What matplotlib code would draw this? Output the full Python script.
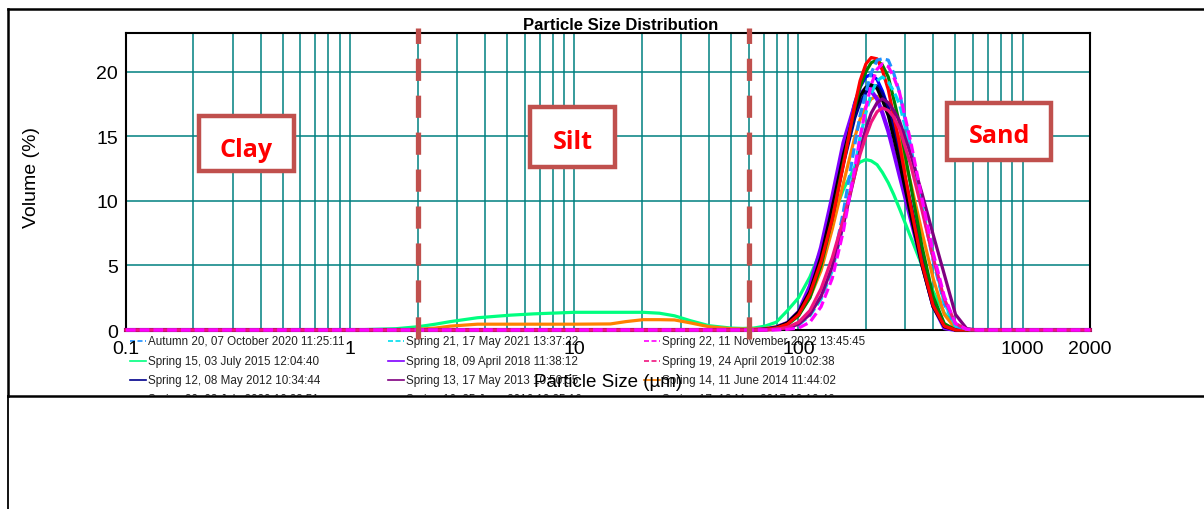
import matplotlib
matplotlib.use('Agg')
import matplotlib.pyplot as plt
from matplotlib.lines import Line2D
from matplotlib.patches import Rectangle
from matplotlib.ticker import NullFormatter

plt.rcParams['font.family'] = ['Liberation Sans', 'DejaVu Sans']

# particle size classes (um)
sizes_um = [0.1, 1.0, 1.6, 2.0, 2.4, 2.8, 3.7, 5.2, 6.6, 10.0, 14.5, 17.0, 20.3, 24.0, 28.0, 33.0, 40.0, 50.0,
            56.4, 63.2, 70.9, 79.6, 89.3, 100.2, 112.5, 126.2, 141.6, 158.9, 178.3,
            188.4, 200.0, 211.3, 224.4, 237.1, 251.8, 266.1,
            282.5, 317.0, 355.7, 399.1, 447.7, 502.4, 563.7, 632.5, 709.6, 2000.0]

# volume (%) per sample
autumn20 = [0, 0, 0, 0, 0, 0, 0, 0, 0, 0, 0, 0, 0, 0, 0, 0, 0, 0,
            0, 0, 0, 0.05, 0.15, 0.5, 1.3, 2.6, 4.9, 9.2, 14.3,
            16.6, 18.4, 19.9, 20.9, 21.0, 20.9, 19.9,
            18.4, 14.2, 9.6, 5.4, 2.0, 0.3, 0.05, 0, 0, 0]
spring21 = [0, 0, 0, 0, 0, 0, 0, 0, 0, 0, 0, 0, 0, 0, 0, 0, 0, 0,
            0, 0, 0, 0.05, 0.12, 0.4, 1.1, 2.4, 4.6, 8.2, 12.6,
            14.9, 16.8, 18.3, 19.3, 19.6, 19.2, 18.5,
            17.5, 14.0, 9.8, 5.6, 2.1, 0.35, 0.05, 0, 0, 0]
spring22 = [0, 0, 0, 0, 0, 0, 0, 0, 0, 0, 0, 0, 0, 0, 0, 0, 0, 0,
            0, 0, 0, 0, 0.05, 0.15, 0.6, 1.8, 4.0, 7.7, 12.5,
            14.9, 17.2, 19.0, 20.2, 20.6, 20.4, 19.6,
            18.4, 14.6, 10.2, 6.0, 2.6, 0.5, 0.05, 0, 0, 0]
spring15 = [0, 0, 0.1, 0.25, 0.45, 0.65, 0.95, 1.15, 1.25, 1.37, 1.37, 1.37, 1.37, 1.3, 1.1, 0.72, 0.33, 0.15,
            0.12, 0.15, 0.3, 0.6, 1.5, 2.5, 4.1, 6.2, 8.6, 10.9, 12.6,
            13.0, 13.2, 13.1, 12.8, 12.2, 11.4, 10.5,
            9.4, 7.2, 5.0, 3.0, 1.3, 0.35, 0.05, 0, 0, 0]
spring18 = [0, 0, 0, 0, 0, 0, 0, 0, 0, 0, 0, 0, 0, 0, 0, 0, 0, 0,
            0, 0, 0.05, 0.2, 0.55, 1.4, 3.4, 6.4, 10.3, 14.5, 17.4,
            18.3, 18.7, 18.5, 17.9, 16.8, 15.4, 13.8,
            12.0, 8.6, 5.2, 1.9, 0.15, 0, 0, 0, 0, 0]
spring19 = [0, 0, 0, 0, 0, 0, 0, 0, 0, 0, 0, 0, 0, 0, 0, 0, 0, 0,
            0, 0, 0, 0.05, 0.2, 0.6, 1.5, 3.2, 5.6, 8.6, 12.0,
            13.6, 15.0, 16.1, 16.9, 17.2, 17.0, 16.5,
            15.6, 12.8, 9.3, 5.6, 2.4, 0.5, 0.05, 0, 0, 0]
spring12 = [0, 0, 0, 0, 0, 0, 0, 0, 0, 0, 0, 0, 0, 0, 0, 0, 0, 0,
            0, 0, 0.05, 0.15, 0.45, 1.2, 2.7, 5.2, 8.8, 12.9, 16.4,
            17.6, 18.4, 18.9, 18.9, 18.3, 17.2, 15.6,
            13.8, 9.8, 5.8, 2.4, 0.4, 0, 0, 0, 0, 0]
spring13 = [0, 0, 0, 0, 0, 0, 0, 0, 0, 0, 0, 0, 0, 0, 0, 0, 0, 0,
            0, 0, 0, 0.05, 0.15, 0.45, 1.2, 2.6, 4.9, 8.2, 12.0,
            13.9, 15.6, 16.8, 17.6, 17.9, 17.6, 17.0,
            16.2, 13.6, 10.6, 7.4, 4.3, 1.2, 0.1, 0, 0, 0]
spring14 = [0, 0, 0, 0.05, 0.15, 0.3, 0.45, 0.45, 0.45, 0.45, 0.47, 0.65, 0.8, 0.8, 0.78, 0.55, 0.25, 0.1,
            0.08, 0.08, 0.12, 0.25, 0.55, 1.2, 2.5, 4.6, 7.8, 11.4, 14.9,
            16.3, 17.3, 17.9, 18.1, 17.9, 17.2, 16.1,
            14.8, 11.4, 7.6, 4.0, 1.2, 0.1, 0, 0, 0, 0]
spring20 = [0, 0, 0, 0, 0, 0, 0, 0, 0, 0, 0, 0, 0, 0, 0, 0, 0, 0,
            0, 0, 0.05, 0.15, 0.45, 1.2, 2.8, 5.3, 8.6, 12.8, 17.4,
            19.3, 20.6, 21.1, 21.0, 20.1, 18.6, 16.6,
            14.4, 9.6, 5.2, 1.9, 0.3, 0, 0, 0, 0, 0]
spring16 = [0, 0, 0, 0, 0, 0, 0, 0, 0, 0, 0, 0, 0, 0, 0, 0, 0, 0,
            0, 0, 0.05, 0.15, 0.4, 1.1, 2.5, 5.0, 8.6, 13.0, 17.2,
            18.8, 20.0, 20.7, 20.9, 20.5, 19.6, 17.9,
            16.0, 11.2, 6.5, 2.6, 0.5, 0, 0, 0, 0, 0]
spring17 = [0, 0, 0, 0, 0, 0, 0, 0, 0, 0, 0, 0, 0, 0, 0, 0, 0, 0,
            0, 0, 0.05, 0.2, 0.55, 1.4, 3.0, 5.7, 9.5, 13.6, 17.0,
            18.1, 18.8, 19.0, 18.7, 17.8, 16.6, 14.9,
            13.0, 8.9, 5.0, 1.8, 0.25, 0, 0, 0, 0, 0]
spring11 = [0, 0, 0, 0, 0, 0, 0, 0, 0, 0, 0, 0, 0, 0, 0, 0, 0, 0,
            0, 0, 0.05, 0.2, 0.5, 1.3, 2.9, 5.6, 9.4, 13.8, 17.6,
            18.8, 19.6, 19.8, 19.4, 18.5, 17.2, 15.4,
            13.5, 9.2, 5.1, 1.8, 0.3, 0, 0, 0, 0, 0]

series = [autumn20, spring21, spring22, spring15, spring18, spring19,
          spring12, spring13, spring14, spring20, spring16, spring17, spring11]
labels = ['Autumn 20, 07 October 2020 11:25:11', 'Spring 21, 17 May 2021 13:37:22',
          'Spring 22, 11 November 2022 13:45:45', 'Spring 15, 03 July 2015 12:04:40',
          'Spring 18, 09 April 2018 11:38:12', 'Spring 19, 24 April 2019 10:02:38',
          'Spring 12, 08 May 2012 10:34:44', 'Spring 13, 17 May 2013 10:50:55',
          'Spring 14, 11 June 2014 11:44:02', 'Spring 20, 03 July 2020 10:33:51',
          'Spring 16, 25 June 2016 10:25:16', 'Spring 17, 12 May 2017 10:16:46',
          'Spring 11, 10 May 2011 10:12:30']
colors = ['#1E90FF', '#00DDEE', '#FF00FF', '#00FF80', '#8000FF', '#F0147F',
          '#00008B', '#800080', '#FF8000', '#FF0000', '#008000', '#000000', '#0000FF']
curve_dashed = [True, True, True, False, False, False, False, False, False, False, False, False, False]
handle_dashed = [True, True, True, False, False, True, False, False, False, False, False, False, False]
draw_order = [3, 8, 12, 4, 6, 11, 10, 9, 0, 1, 7, 5, 2]

class_bounds_um = [2, 60]
class_names = ['Clay', 'Silt', 'Sand']

W, H = 1204, 510
fig = plt.figure(figsize=(W / 100, H / 100), dpi=100)


def fx(px):
    return px / W


def fy(py):
    return 1 - py / H


# outer frame, legend strip lives in here (pixel coords)
bg = fig.add_axes([fx(8), fy(397), 1.0, fy(10) - fy(397)])
bg.set_xlim(8, 8 + W)
bg.set_ylim(397, 10)
bg.set_xticks([])
bg.set_yticks([])
bg.spines['right'].set_visible(False)
for s in ('left', 'top', 'bottom'):
    bg.spines[s].set_linewidth(1.8)
fig.add_artist(Line2D([fx(8), fx(8)], [0, fy(397)], color='black', lw=1.3))

ax = fig.add_axes([fx(126), fy(331), fx(1090) - fx(126), fy(34) - fy(331)])
ax.set_xscale('log')
ax.set_xlim(0.1, 2000)
ax.set_ylim(0, 23)
ax.set_xticks([0.1, 1, 10, 100, 1000, 2000])
ax.set_xticklabels(['0.1', '1', '10', '100', '1000', '2000'])
ax.set_xticks([m * d for d in (0.1, 1, 10, 100) for m in range(2, 10)], minor=True)
ax.xaxis.set_minor_formatter(NullFormatter())
ax.set_yticks([0, 5, 10, 15, 20])
ax.tick_params(which='both', length=0, labelsize=14)
ax.tick_params(axis='y', pad=5.8)
ax.tick_params(axis='x', pad=7.5)
ax.grid(True, which='both', color='#008080', lw=1.1)
ax.set_axisbelow(True)
for s in ax.spines.values():
    s.set_linewidth(1.5)

for i in draw_order:
    ls = (0, (3, 1.3)) if curve_dashed[i] else '-'
    lw = 3.0 if colors[i] == '#8000FF' else 2.3
    ax.plot(sizes_um, series[i], color=colors[i], ls=ls, lw=lw, clip_on=False, zorder=3)

for b in class_bounds_um:
    ax.axvline(b, ymin=-0.03, ymax=1.017, color='#C0504D', lw=3.8,
               ls=(0, (4.2, 2.8)), clip_on=False, zorder=4)

# class boxes
boxes = [(197, 115, 99, 59, 157), (528, 106, 89, 64, 149), (945, 102, 108, 61, 143)]
for name, (x0, y0, w, h, base) in zip(class_names, boxes):
    fig.add_artist(Rectangle((fx(x0 + 2), fy(y0 + h - 2)), fx(w - 4), fy(0) - fy(h - 4),
                             transform=fig.transFigure, fc='white', ec='#C0504D', lw=3.2, zorder=5))
    fig.text(fx(x0 + w / 2), fy(base), name, ha='center', va='baseline', color='#FF0000',
             fontsize=18, weight='bold', family=['Open Sans', 'DejaVu Sans'], zorder=6)

fig.text(fx(621), fy(25), 'Particle Size Distribution', ha='center', va='center',
         fontsize=12, weight='bold')
fig.text(fx(32), fy(178), 'Volume (%)', ha='center', va='center', rotation=90, fontsize=14)

# legend, three columns
col_x = [130, 388, 644]
row_y = [342, 362, 381, 400, 419]
for k, lab in enumerate(labels):
    r, c = divmod(k, 3)
    x0, y0 = col_x[c], row_y[r]
    bg.plot([x0, x0 + 16], [y0, y0], color=colors[k], lw=1.2,
            ls=(0, (3, 1.5)) if handle_dashed[k] else '-', clip_on=True)
    bg.text(x0 + 18, y0, lab, fontsize=8.4, va='center', ha='left', color='#222222', clip_on=True)

fig.text(fx(608), fy(383), 'Particle Size (\u00b5m)', ha='center', va='center',
         fontsize=13.5, zorder=7)

fig.savefig('out.png', dpi=100)
